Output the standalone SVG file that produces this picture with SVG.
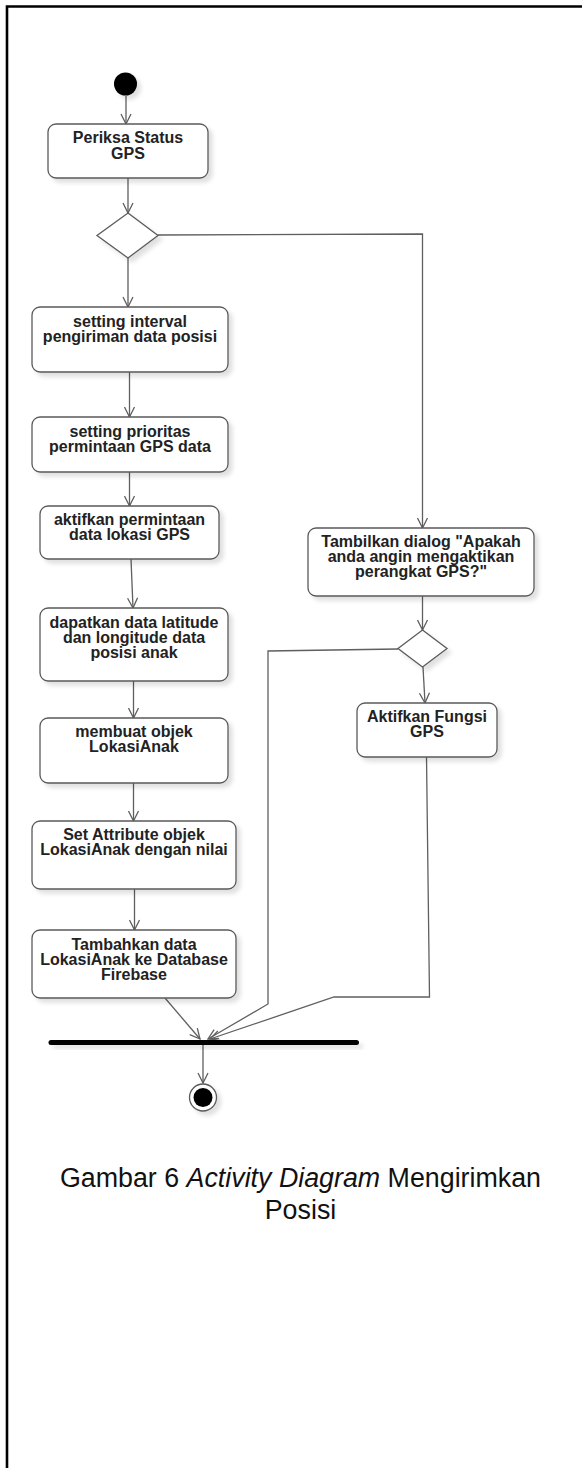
<svg xmlns="http://www.w3.org/2000/svg" width="582" height="1468" viewBox="0 0 582 1468">
  <style>
    .act { fill: #ffffff; stroke: #5a5a5a; stroke-width: 1.3; filter: url(#shadow); }
    .dec { fill: #ffffff; stroke: #5a5a5a; stroke-width: 1.3; filter: url(#shadow); }
    .lbl { font-family: "Liberation Sans", Arial, sans-serif; font-weight: bold; font-size: 16px; fill: #222222; text-anchor: middle; }
    .flow { fill: none; stroke: #5f5f5f; stroke-width: 1.3; }
    .cap { font-family: "Liberation Sans", Arial, sans-serif; font-size: 26.8px; fill: #111111; text-anchor: middle; }
  </style>
  <defs>
    <filter id="shadow" x="-20%" y="-50%" width="150%" height="250%">
      <feDropShadow dx="4" dy="4" stdDeviation="2" flood-color="#000000" flood-opacity="0.12"/>
    </filter>
    <marker id="arrow" viewBox="0 0 12 12" refX="11" refY="6" markerWidth="12" markerHeight="12" markerUnits="userSpaceOnUse" orient="auto">
      <path d="M1,1 L11,6 L1,11" fill="none" stroke="#5f5f5f" stroke-width="1.3"/>
    </marker>
  </defs>

  <rect width="582" height="1468" fill="#ffffff"/>
  <!-- page frame -->
  <path d="M7,1468 V6.5 H582" fill="none" stroke="#000000" stroke-width="2.6"/>

  <g id="connectors">
    <line class="flow" x1="126" y1="96" x2="126" y2="124" marker-end="url(#arrow)"/>
    <line class="flow" x1="128" y1="178" x2="128" y2="213" marker-end="url(#arrow)"/>
    <line class="flow" x1="128" y1="258" x2="128" y2="307" marker-end="url(#arrow)"/>
    <line class="flow" x1="129.5" y1="372" x2="129.5" y2="417" marker-end="url(#arrow)"/>
    <line class="flow" x1="129.5" y1="472" x2="129.5" y2="506" marker-end="url(#arrow)"/>
    <line class="flow" x1="131" y1="559" x2="133" y2="608" marker-end="url(#arrow)"/>
    <line class="flow" x1="133.5" y1="681" x2="133.5" y2="718" marker-end="url(#arrow)"/>
    <line class="flow" x1="133.5" y1="783" x2="133.5" y2="821" marker-end="url(#arrow)"/>
    <line class="flow" x1="134.5" y1="889" x2="134.5" y2="930" marker-end="url(#arrow)"/>
    <line class="flow" x1="165" y1="998" x2="200" y2="1039" marker-end="url(#arrow)"/>
    <polyline class="flow" points="158,235 422.5,234 422.5,528" marker-end="url(#arrow)"/>
    <line class="flow" x1="422.5" y1="596" x2="422.5" y2="630" marker-end="url(#arrow)"/>
    <line class="flow" x1="423" y1="667" x2="425" y2="703" marker-end="url(#arrow)"/>
    <polyline class="flow" points="398,649 268,651 268,1004 208,1039" marker-end="url(#arrow)"/>
    <polyline class="flow" points="426.5,757 429.5,997 334,997 210,1039" marker-end="url(#arrow)"/>
    <line class="flow" x1="203" y1="1045" x2="203" y2="1083" marker-end="url(#arrow)"/>
  </g>

  <g id="start">
    <circle cx="125.5" cy="84" r="11.5" fill="#000000" filter="url(#shadow)"/>
  </g>

  <g id="periksa-status">
    <rect class="act" x="48" y="124" width="160" height="54" rx="8"/>
    <text class="lbl" x="128" y="143">Periksa Status</text>
    <text class="lbl" x="128" y="159">GPS</text>
  </g>

  <g id="gps-check">
    <polygon class="dec" points="128,213 158,235.5 128,258 97,235.5"/>
  </g>

  <g id="setting-interval">
    <rect class="act" x="32" y="307" width="196" height="65" rx="8"/>
    <text class="lbl" x="130" y="327">setting interval</text>
    <text class="lbl" x="130" y="342">pengiriman data posisi</text>
  </g>

  <g id="setting-prioritas">
    <rect class="act" x="32" y="417" width="196" height="55" rx="8"/>
    <text class="lbl" x="130" y="436.5">setting prioritas</text>
    <text class="lbl" x="130" y="451.5">permintaan GPS data</text>
  </g>

  <g id="aktifkan-permintaan">
    <rect class="act" x="40" y="506" width="179" height="53" rx="8"/>
    <text class="lbl" x="129.5" y="525">aktifkan permintaan</text>
    <text class="lbl" x="129.5" y="540">data lokasi GPS</text>
  </g>

  <g id="dapatkan-data">
    <rect class="act" x="40" y="608" width="188" height="73" rx="8"/>
    <text class="lbl" x="134" y="627.5">dapatkan data latitude</text>
    <text class="lbl" x="134" y="642.5">dan longitude data</text>
    <text class="lbl" x="134" y="657.5">posisi anak</text>
  </g>

  <g id="membuat-objek">
    <rect class="act" x="40" y="718" width="188" height="65" rx="8"/>
    <text class="lbl" x="134" y="737">membuat objek</text>
    <text class="lbl" x="134" y="752">LokasiAnak</text>
  </g>

  <g id="set-attribute">
    <rect class="act" x="32" y="821" width="204" height="68" rx="8"/>
    <text class="lbl" x="134" y="840">Set Attribute objek</text>
    <text class="lbl" x="134" y="855">LokasiAnak dengan nilai</text>
  </g>

  <g id="tambahkan-data">
    <rect class="act" x="32" y="930" width="204" height="68" rx="8"/>
    <text class="lbl" x="134" y="949.5">Tambahkan data</text>
    <text class="lbl" x="134" y="964.5">LokasiAnak ke Database</text>
    <text class="lbl" x="134" y="979.5">Firebase</text>
  </g>

  <g id="tambilkan-dialog">
    <rect class="act" x="308" y="528" width="226" height="68" rx="8"/>
    <text class="lbl" x="421" y="547">Tambilkan dialog "Apakah</text>
    <text class="lbl" x="421" y="562">anda angin mengaktikan</text>
    <text class="lbl" x="421" y="577">perangkat GPS?"</text>
  </g>

  <g id="dialog-answer">
    <polygon class="dec" points="422.5,630 447,648.5 422.5,667 398,648.5"/>
  </g>

  <g id="aktifkan-fungsi">
    <rect class="act" x="357" y="703" width="140" height="54" rx="8"/>
    <text class="lbl" x="427" y="722">Aktifkan Fungsi</text>
    <text class="lbl" x="427" y="737">GPS</text>
  </g>

  <g id="join-bar">
    <rect x="48.5" y="1040" width="310.5" height="5" rx="2.5" fill="#000000" filter="url(#shadow)"/>
  </g>

  <g id="end">
    <circle cx="203" cy="1097.5" r="13.5" fill="#ffffff" stroke="#5a5a5a" stroke-width="1.3" filter="url(#shadow)"/>
    <circle cx="203" cy="1097.5" r="9.5" fill="#000000"/>
  </g>

  <g id="caption">
    <text class="cap" x="300.5" y="1187">Gambar 6 <tspan font-style="italic">Activity Diagram</tspan> Mengirimkan</text>
    <text class="cap" x="300.5" y="1219">Posisi</text>
  </g>
</svg>
